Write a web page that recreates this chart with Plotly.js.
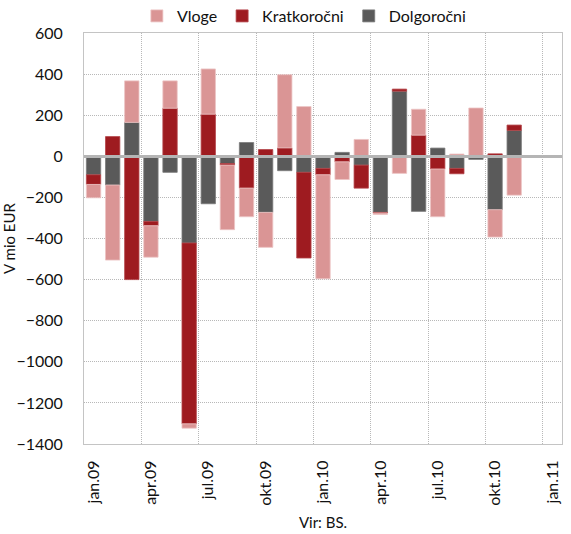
<!DOCTYPE html>
<html>
<head>
<meta charset="utf-8">
<script src="https://cdn.plot.ly/plotly-3.0.1.min.js"></script>
<style>html,body{margin:0;padding:0;background:#fff;}#chart{width:571px;height:534px;}</style>
</head>
<body>
<div id="chart"></div>
<script>
// Months (category axis), jan.09 .. jan.11
var months = ["jan.09","feb.09","mar.09","apr.09","maj.09","jun.09","jul.09","avg.09","sep.09","okt.09","nov.09","dec.09",
              "jan.10","feb.10","mar.10","apr.10","maj.10","jun.10","jul.10","avg.10","sep.10","okt.10","nov.10","dec.10","jan.11"];
// Series values (mio EUR), jan.09 .. nov.10
var dolgorocni  = [-90, -140, 165, -317, -78, -422, -231, -35, 67, -273, -70, -78,
                   -59, 19, -43, -273, 317, -268, 40, -59, -15, -260, 126];
var kratkorocni = [-47, 96, -600, -21, 234, -880, 205, -8, -155, 33, 41, -417,
                   -31, -27, -112, -3, 10, 103, -62, -26, 4, 12, 26];
var vloge       = [-65, -365, 202, -153, 133, -21, 220, -314, -139, -170, 356, 242,
                   -506, -86, 82, -7, -83, 126, -232, 11, 231, -133, -189];
var tickLabels = ["jan.09","apr.09","jul.09","okt.09","jan.10","apr.10","jul.10","okt.10","jan.11"];

var idx = months.map(function(m, i){ return i; });
var xData = idx.slice(0, dolgorocni.length);
var tickVals = tickLabels.map(function(l){ return months.indexOf(l); });
var gridVals = [];
for (var g = 2.5; g < months.length - 0.5; g += 3) gridVals.push(g);

var common = {type: 'bar', x: xData, hoverinfo: 'y+name'};
var traces = [
  Object.assign({}, common, {name: 'Dolgoročni', y: dolgorocni,
    marker: {color: '#5a5a5a', line: {color: '#7a7a7a', width: 0.8}}}),
  Object.assign({}, common, {name: 'Kratkoročni', y: kratkorocni,
    marker: {color: '#9e1b20', line: {color: '#b44449', width: 0.8}}}),
  Object.assign({}, common, {name: 'Vloge', y: vloge,
    marker: {color: '#da9595', line: {color: '#ecc4c4', width: 0.8}}})
];

var fam = 'Lato, "Noto Sans", sans-serif';
var font = {family: fam, size: 15, color: '#111111'};
var gridDash = '1px,1px';
var layout = {
  width: 571, height: 534,
  margin: {l: 84, r: 9, t: 33, b: 90, autoexpand: false},
  paper_bgcolor: '#ffffff', plot_bgcolor: '#ffffff',
  font: font,
  barmode: 'relative',
  bargap: 0.25,
  showlegend: true,
  legend: {orientation: 'h', traceorder: 'reversed', x: 0.46, xanchor: 'center',
           y: 1.0, yanchor: 'bottom', font: {family: fam, size: 16, color: '#111111'},
           itemwidth: 30, bgcolor: 'rgba(0,0,0,0)'},
  xaxis: {
    range: [-0.5, months.length - 0.5],
    tickmode: 'array', tickvals: tickVals, ticktext: tickLabels,
    tickangle: -90, ticks: '', ticklabelstandoff: 9,
    tickfont: {family: fam, size: 16, color: '#111111'},
    showgrid: false, zeroline: false,
    showline: true, mirror: true, linecolor: '#c4c4c4', linewidth: 1,
    minor: {tickmode: 'array', tickvals: gridVals, showgrid: true, gridcolor: '#b8b8b8',
            gridwidth: 1, griddash: gridDash, ticks: ''},
    title: {text: 'Vir: BS.', font: {family: fam, size: 15, color: '#111111'}, standoff: 12},
    fixedrange: true
  },
  yaxis: {
    range: [-1400, 600], dtick: 200, tick0: 0,
    ticks: '', ticklabelstandoff: 17,
    tickfont: {family: fam, size: 16, color: '#111111'},
    showgrid: true, gridcolor: '#b8b8b8', gridwidth: 1, griddash: gridDash,
    zeroline: true, zerolinecolor: '#b5b5b5', zerolinewidth: 2.5,
    zerolinelayer: 'above traces',
    showline: true, mirror: true, linecolor: '#c4c4c4', linewidth: 1,
    title: {text: 'V mio EUR', font: {family: fam, size: 15, color: '#111111'}, standoff: 0},
    fixedrange: true
  }
};

Plotly.newPlot('chart', traces, layout, {displayModeBar: false, staticPlot: true});
</script>
</body>
</html>
